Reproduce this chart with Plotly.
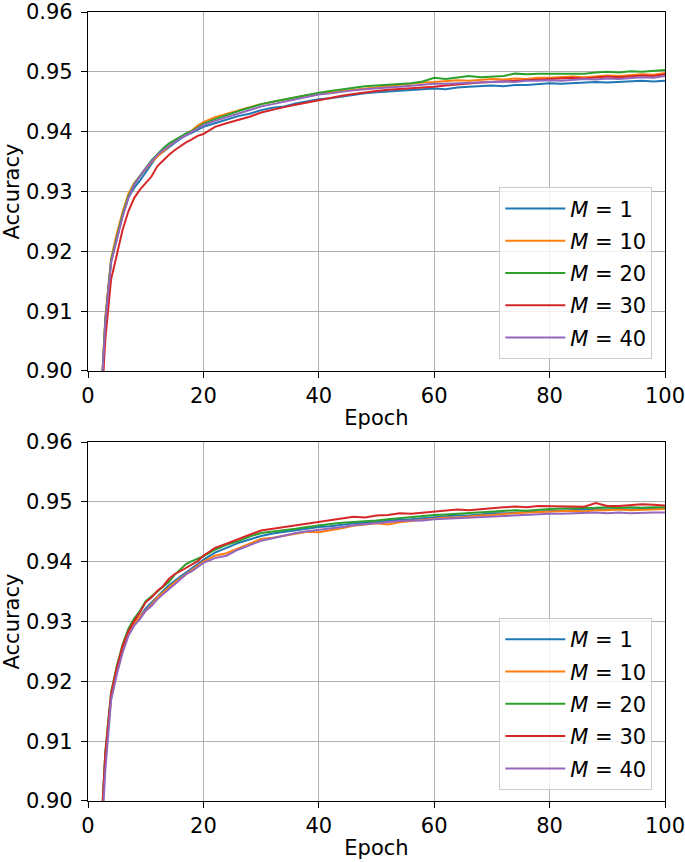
import plotly.graph_objects as go
from plotly.subplots import make_subplots

# epochs: every epoch up to 20, then every second epoch
EPOCHS = list(range(2, 21)) + list(range(22, 101, 2))
M_VALUES = [1, 10, 20, 30, 40]
COLORS = ["#1f77b4", "#ff7f0e", "#2ca02c", "#d62728", "#9467bd"]

# top panel
top_m1 = [0.8900, 0.9083, 0.9183, 0.9224, 0.9260, 0.9290, 0.9306, 0.9318, 0.9332, 0.9346,
          0.9360, 0.9366, 0.9374, 0.9381, 0.9388, 0.9394, 0.9398, 0.9403, 0.9408,
          0.9414, 0.9420, 0.9426, 0.9430, 0.9436, 0.9440, 0.9442, 0.9447, 0.9451, 0.9454,
          0.9456, 0.9459, 0.9461, 0.9464, 0.9466, 0.9467, 0.9468, 0.9469, 0.9470, 0.9472,
          0.9471, 0.9474, 0.9475, 0.9476, 0.9477, 0.9476, 0.9478, 0.9478, 0.9479, 0.9481,
          0.9480, 0.9481, 0.9482, 0.9483, 0.9482, 0.9483, 0.9484, 0.9485, 0.9484, 0.9485]
top_m10 = [0.8905, 0.9090, 0.9188, 0.9230, 0.9266, 0.9296, 0.9314, 0.9326, 0.9338, 0.9349,
           0.9358, 0.9367, 0.9375, 0.9384, 0.9390, 0.9396, 0.9402, 0.9410, 0.9416,
           0.9424, 0.9430, 0.9436, 0.9441, 0.9446, 0.9450, 0.9454, 0.9458, 0.9461, 0.9464,
           0.9466, 0.9468, 0.9471, 0.9473, 0.9474, 0.9476, 0.9479, 0.9480, 0.9482, 0.9483,
           0.9484, 0.9486, 0.9485, 0.9487, 0.9488, 0.9487, 0.9489, 0.9488, 0.9490, 0.9490,
           0.9491, 0.9492, 0.9491, 0.9493, 0.9494, 0.9493, 0.9495, 0.9496, 0.9495, 0.9498]
top_m20 = [0.8902, 0.9085, 0.9185, 0.9226, 0.9262, 0.9292, 0.9312, 0.9326, 0.9340, 0.9352,
           0.9362, 0.9372, 0.9380, 0.9386, 0.9392, 0.9397, 0.9401, 0.9407, 0.9413,
           0.9421, 0.9428, 0.9434, 0.9440, 0.9446, 0.9450, 0.9454, 0.9458, 0.9462, 0.9465,
           0.9468, 0.9471, 0.9474, 0.9476, 0.9477, 0.9478, 0.9480, 0.9481, 0.9484, 0.9490,
           0.9488, 0.9490, 0.9493, 0.9491, 0.9492, 0.9493, 0.9497, 0.9496, 0.9497, 0.9497,
           0.9497, 0.9498, 0.9497, 0.9499, 0.9500, 0.9499, 0.9501, 0.9500, 0.9502, 0.9503]
top_m30 = [0.8880, 0.9053, 0.9153, 0.9197, 0.9236, 0.9267, 0.9289, 0.9303, 0.9314, 0.9325,
           0.9342, 0.9352, 0.9361, 0.9369, 0.9376, 0.9382, 0.9387, 0.9393, 0.9396,
           0.9408, 0.9414, 0.9419, 0.9425, 0.9432, 0.9437, 0.9441, 0.9445, 0.9449, 0.9453,
           0.9456, 0.9460, 0.9463, 0.9466, 0.9468, 0.9470, 0.9471, 0.9473, 0.9474, 0.9475,
           0.9477, 0.9479, 0.9480, 0.9482, 0.9483, 0.9484, 0.9485, 0.9486, 0.9487, 0.9488,
           0.9489, 0.9490, 0.9489, 0.9491, 0.9492, 0.9491, 0.9493, 0.9494, 0.9493, 0.9496]
top_m40 = [0.8900, 0.9081, 0.9181, 0.9222, 0.9258, 0.9289, 0.9311, 0.9325, 0.9339, 0.9350,
           0.9361, 0.9369, 0.9376, 0.9383, 0.9389, 0.9394, 0.9400, 0.9406, 0.9411,
           0.9418, 0.9424, 0.9430, 0.9436, 0.9442, 0.9446, 0.9450, 0.9454, 0.9458, 0.9462,
           0.9464, 0.9467, 0.9469, 0.9471, 0.9473, 0.9474, 0.9475, 0.9477, 0.9478, 0.9480,
           0.9480, 0.9481, 0.9482, 0.9482, 0.9483, 0.9484, 0.9483, 0.9485, 0.9485, 0.9486,
           0.9485, 0.9487, 0.9488, 0.9487, 0.9489, 0.9488, 0.9490, 0.9491, 0.9490, 0.9493]

# bottom panel
bot_m1 = [0.8895, 0.9075, 0.9175, 0.9218, 0.9254, 0.9280, 0.9297, 0.9308, 0.9322, 0.9332,
          0.9342, 0.9351, 0.9360, 0.9368, 0.9375, 0.9382, 0.9389, 0.9396, 0.9403,
          0.9415, 0.9423, 0.9431, 0.9437, 0.9443, 0.9447, 0.9450, 0.9453, 0.9455, 0.9458,
          0.9459, 0.9462, 0.9464, 0.9465, 0.9467, 0.9468, 0.9470, 0.9471, 0.9473, 0.9475,
          0.9476, 0.9477, 0.9477, 0.9479, 0.9481, 0.9481, 0.9482, 0.9483, 0.9484, 0.9485,
          0.9486, 0.9486, 0.9487, 0.9488, 0.9487, 0.9488, 0.9487, 0.9488, 0.9489, 0.9488]
bot_m10 = [0.8890, 0.9070, 0.9172, 0.9215, 0.9251, 0.9278, 0.9296, 0.9308, 0.9318, 0.9328,
           0.9340, 0.9349, 0.9357, 0.9365, 0.9372, 0.9379, 0.9386, 0.9392, 0.9400,
           0.9410, 0.9414, 0.9422, 0.9430, 0.9438, 0.9440, 0.9443, 0.9447, 0.9450, 0.9449,
           0.9452, 0.9456, 0.9460, 0.9462, 0.9464, 0.9462, 0.9466, 0.9468, 0.9470, 0.9473,
           0.9474, 0.9474, 0.9476, 0.9477, 0.9478, 0.9480, 0.9481, 0.9482, 0.9483, 0.9483,
           0.9484, 0.9485, 0.9484, 0.9486, 0.9486, 0.9487, 0.9486, 0.9487, 0.9487, 0.9488]
bot_m20 = [0.8902, 0.9082, 0.9182, 0.9226, 0.9262, 0.9288, 0.9305, 0.9318, 0.9334, 0.9342,
           0.9350, 0.9358, 0.9366, 0.9378, 0.9387, 0.9396, 0.9401, 0.9405, 0.9409,
           0.9420, 0.9428, 0.9434, 0.9442, 0.9448, 0.9450, 0.9452, 0.9455, 0.9458, 0.9461,
           0.9463, 0.9465, 0.9466, 0.9468, 0.9469, 0.9471, 0.9473, 0.9474, 0.9476, 0.9478,
           0.9479, 0.9480, 0.9481, 0.9482, 0.9483, 0.9484, 0.9486, 0.9485, 0.9487, 0.9488,
           0.9489, 0.9489, 0.9490, 0.9490, 0.9491, 0.9490, 0.9491, 0.9490, 0.9491, 0.9491]
bot_m30 = [0.8900, 0.9079, 0.9179, 0.9223, 0.9259, 0.9284, 0.9301, 0.9315, 0.9332, 0.9340,
           0.9351, 0.9359, 0.9371, 0.9379, 0.9384, 0.9390, 0.9396, 0.9401, 0.9410,
           0.9423, 0.9430, 0.9438, 0.9445, 0.9452, 0.9455, 0.9458, 0.9461, 0.9464, 0.9466,
           0.9469, 0.9472, 0.9475, 0.9474, 0.9477, 0.9478, 0.9481, 0.9480, 0.9482, 0.9483,
           0.9485, 0.9487, 0.9486, 0.9488, 0.9490, 0.9491, 0.9492, 0.9491, 0.9493, 0.9493,
           0.9492, 0.9493, 0.9492, 0.9498, 0.9493, 0.9493, 0.9495, 0.9496, 0.9495, 0.9494]
bot_m40 = [0.8880, 0.9051, 0.9168, 0.9212, 0.9248, 0.9276, 0.9293, 0.9304, 0.9318, 0.9326,
           0.9337, 0.9346, 0.9354, 0.9362, 0.9371, 0.9379, 0.9384, 0.9391, 0.9398,
           0.9406, 0.9410, 0.9420, 0.9427, 0.9435, 0.9439, 0.9444, 0.9448, 0.9451, 0.9453,
           0.9455, 0.9458, 0.9461, 0.9463, 0.9465, 0.9466, 0.9468, 0.9469, 0.9469, 0.9471,
           0.9472, 0.9473, 0.9474, 0.9474, 0.9475, 0.9477, 0.9478, 0.9478, 0.9479, 0.9480,
           0.9480, 0.9481, 0.9481, 0.9482, 0.9481, 0.9482, 0.9481, 0.9482, 0.9482, 0.9482]

top_series = [top_m1, top_m10, top_m20, top_m30, top_m40]
bot_series = [bot_m1, bot_m10, bot_m20, bot_m30, bot_m40]

FONT = "DejaVu Sans"
FS = 21

fig = make_subplots(rows=2, cols=1, vertical_spacing=0.09)

for row, series, leg in [(1, top_series, "legend"), (2, bot_series, "legend2")]:
    for m, color, ys in zip(M_VALUES, COLORS, series):
        fig.add_trace(go.Scatter(
            x=EPOCHS, y=ys, mode="lines",
            name=f"<i>M</i> = {m}",
            line=dict(color=color, width=2),
            legend=leg, legendgroup=f"{leg}_{m}",
        ), row=row, col=1)

axis_style = dict(
    automargin=False, ticklabeloverflow="allow",
    showline=True, linecolor="black", linewidth=1.2, mirror=True,
    ticks="outside", ticklen=6, tickcolor="black",
    showgrid=True, gridcolor="#b0b0b0", gridwidth=1,
    zeroline=False,
    tickfont=dict(family=FONT, size=FS, color="black"),
    title_font=dict(family=FONT, size=FS, color="black"),
)

for r in (1, 2):
    fig.update_xaxes(range=[0, 100], tickvals=[0, 20, 40, 60, 80, 100],
                     title_text="Epoch", title_standoff=3, row=r, col=1, **axis_style)
    fig.update_yaxes(range=[0.90, 0.96], tickvals=[0.90, 0.91, 0.92, 0.93, 0.94, 0.95, 0.96],
                     tickformat=".2f", title_text="Accuracy", title_standoff=6,
                     ticklabelstandoff=4, row=r, col=1, **axis_style)

legend_style = dict(
    xanchor="right", yanchor="bottom",
    bgcolor="rgba(255,255,255,0.8)", bordercolor="#cccccc", borderwidth=1,
    font=dict(family=FONT, size=FS, color="black"),
    itemwidth=60, traceorder="grouped", tracegroupgap=2,
)

fig.update_layout(
    width=685, height=862,
    margin=dict(l=88, r=20, t=12, b=61),
    plot_bgcolor="white", paper_bgcolor="white",
    font=dict(family=FONT, size=FS, color="black"),
    legend=dict(x=0.978, y=0.5599, **legend_style),
    legend2=dict(x=0.978, y=0.0139, **legend_style),
)

# drop the browser's default body margin so the figure sits at the page origin
fig.write_html("out.html", config={"displayModeBar": False},
               post_script="document.body.style.margin='0';")
